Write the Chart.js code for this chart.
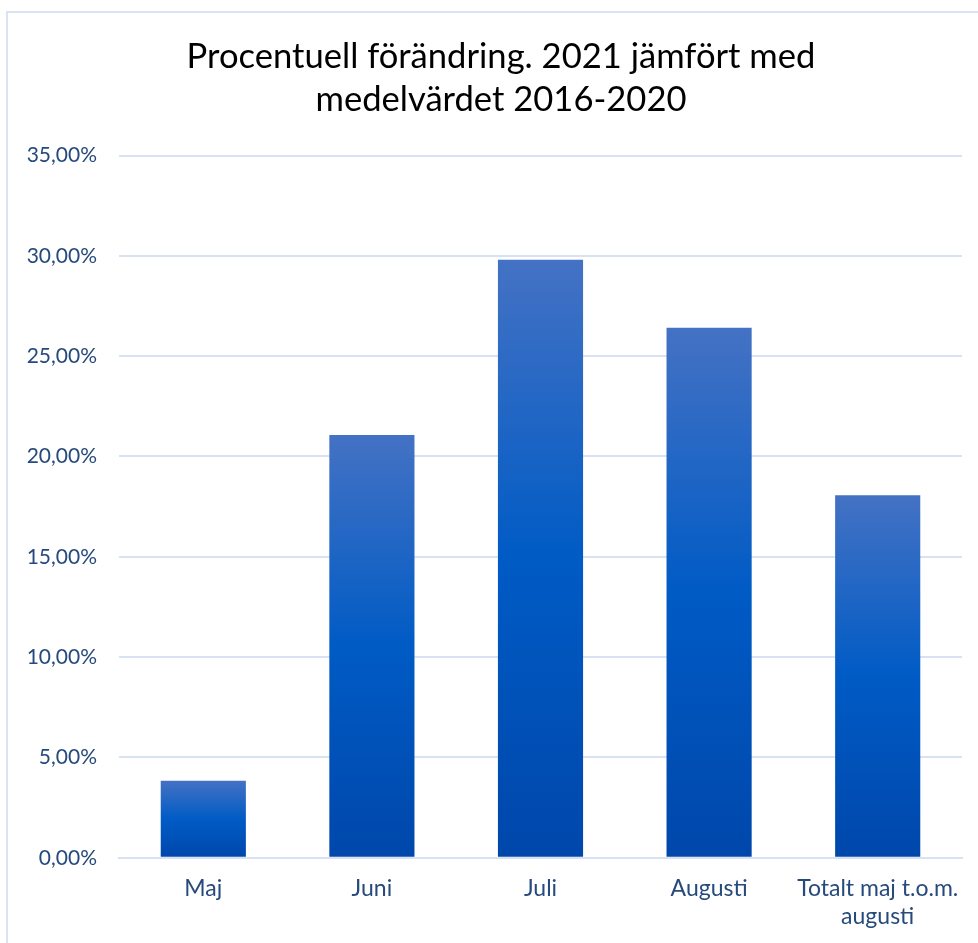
<!DOCTYPE html>
<html>
<head>
<meta charset="utf-8">
<script src="https://cdn.jsdelivr.net/npm/chart.js@4.4.0/dist/chart.umd.min.js"></script>
<style>
  body { margin: 0; background: #fff; }
  #wrap { position: relative; width: 978px; height: 943px; }
  #frame { position: absolute; left: 6px; top: 11px; width: 990px; height: 950px;
           border: 2px solid #dae3f3; box-sizing: border-box; pointer-events: none; }
  canvas { position: absolute; left: 0; top: 0; }
</style>
</head>
<body>
<div id="wrap">
  <canvas id="chart" width="978" height="943"></canvas>
  <div id="frame"></div>
</div>
<script>
const categories = ['Maj', 'Juni', 'Juli', 'Augusti', ['Totalt maj t.o.m.', 'augusti']];
const changeValues = [3.84, 21.07, 29.8, 26.41, 18.07];
const yTicks = [0, 5, 10, 15, 20, 25, 30, 35];
const titleLines = ['Procentuell förändring. 2021 jämfört med', 'medelvärdet 2016-2020'];

const textBlue = '#264a7c';
const gridColor = '#d9e2f3';
const titleFont = { family: 'Lato', size: 34.6, weight: 'normal', lineHeight: 1.25 };

function barGradient(context) {
    const chart = context.chart;
    const area = chart.chartArea;
    if (!area || context.parsed === undefined) return '#0058c0';
    const y = chart.scales.y;
    const top = y.getPixelForValue(context.parsed.y);
    const base = y.getPixelForValue(0);
    const g = chart.ctx.createLinearGradient(0, top, 0, base);
    g.addColorStop(0, '#4472c4');
    g.addColorStop(0.5, '#005bc5');
    g.addColorStop(1, '#0047ab');
    return g;
}

// the built-in title keeps its space, this draws it centred on the frame
const frameTitle = {
    id: 'frameTitle',
    afterDraw(chart) {
        const block = chart.titleBlock;
        const ctx = chart.ctx;
        const lh = titleFont.size * titleFont.lineHeight;
        ctx.save();
        ctx.font = `${titleFont.size}px ${titleFont.family}`;
        ctx.fillStyle = '#000';
        ctx.textAlign = 'center';
        ctx.textBaseline = 'middle';
        titleLines.forEach((line, i) => {
            ctx.fillText(line, 501, block.top + 35 + lh * (i + 0.5));
        });
        ctx.restore();
    }
};

new Chart(document.getElementById('chart'), {
    type: 'bar',
    data: {
        labels: categories,
        datasets: [{
            data: changeValues,
            backgroundColor: barGradient,
            borderWidth: 0,
            barPercentage: 0.505,
            categoryPercentage: 1
        }]
    },
    options: {
        responsive: false,
        animation: false,
        layout: { padding: { left: 0, right: 16, top: 0, bottom: -4 } },
        plugins: {
            legend: { display: false },
            tooltip: { enabled: false },
            title: {
                display: true,
                text: titleLines,
                color: 'rgba(0,0,0,0)',
                font: titleFont,
                padding: { top: 35, bottom: 34 }
            }
        },
        scales: {
            x: {
                grid: { display: false, drawTicks: false },
                border: { display: true, color: gridColor, width: 2 },
                ticks: {
                    color: textBlue,
                    font: { family: 'Lato', size: 23, lineHeight: 1.2 },
                    padding: 17,
                    maxRotation: 0,
                    autoSkip: false
                }
            },
            y: {
                min: 0,
                max: 35,
                afterBuildTicks: axis => { axis.ticks = yTicks.map(v => ({ value: v })); },
                afterFit: axis => { axis.width = 119; },
                grid: { color: gridColor, lineWidth: 2, drawTicks: false },
                border: { display: false },
                ticks: {
                    color: textBlue,
                    font: { family: 'Lato', size: 21 },
                    padding: 22,
                    callback: v => v.toFixed(2).replace('.', ',') + '%'
                }
            }
        }
    },
    plugins: [frameTitle]
});
</script>
</body>
</html>
